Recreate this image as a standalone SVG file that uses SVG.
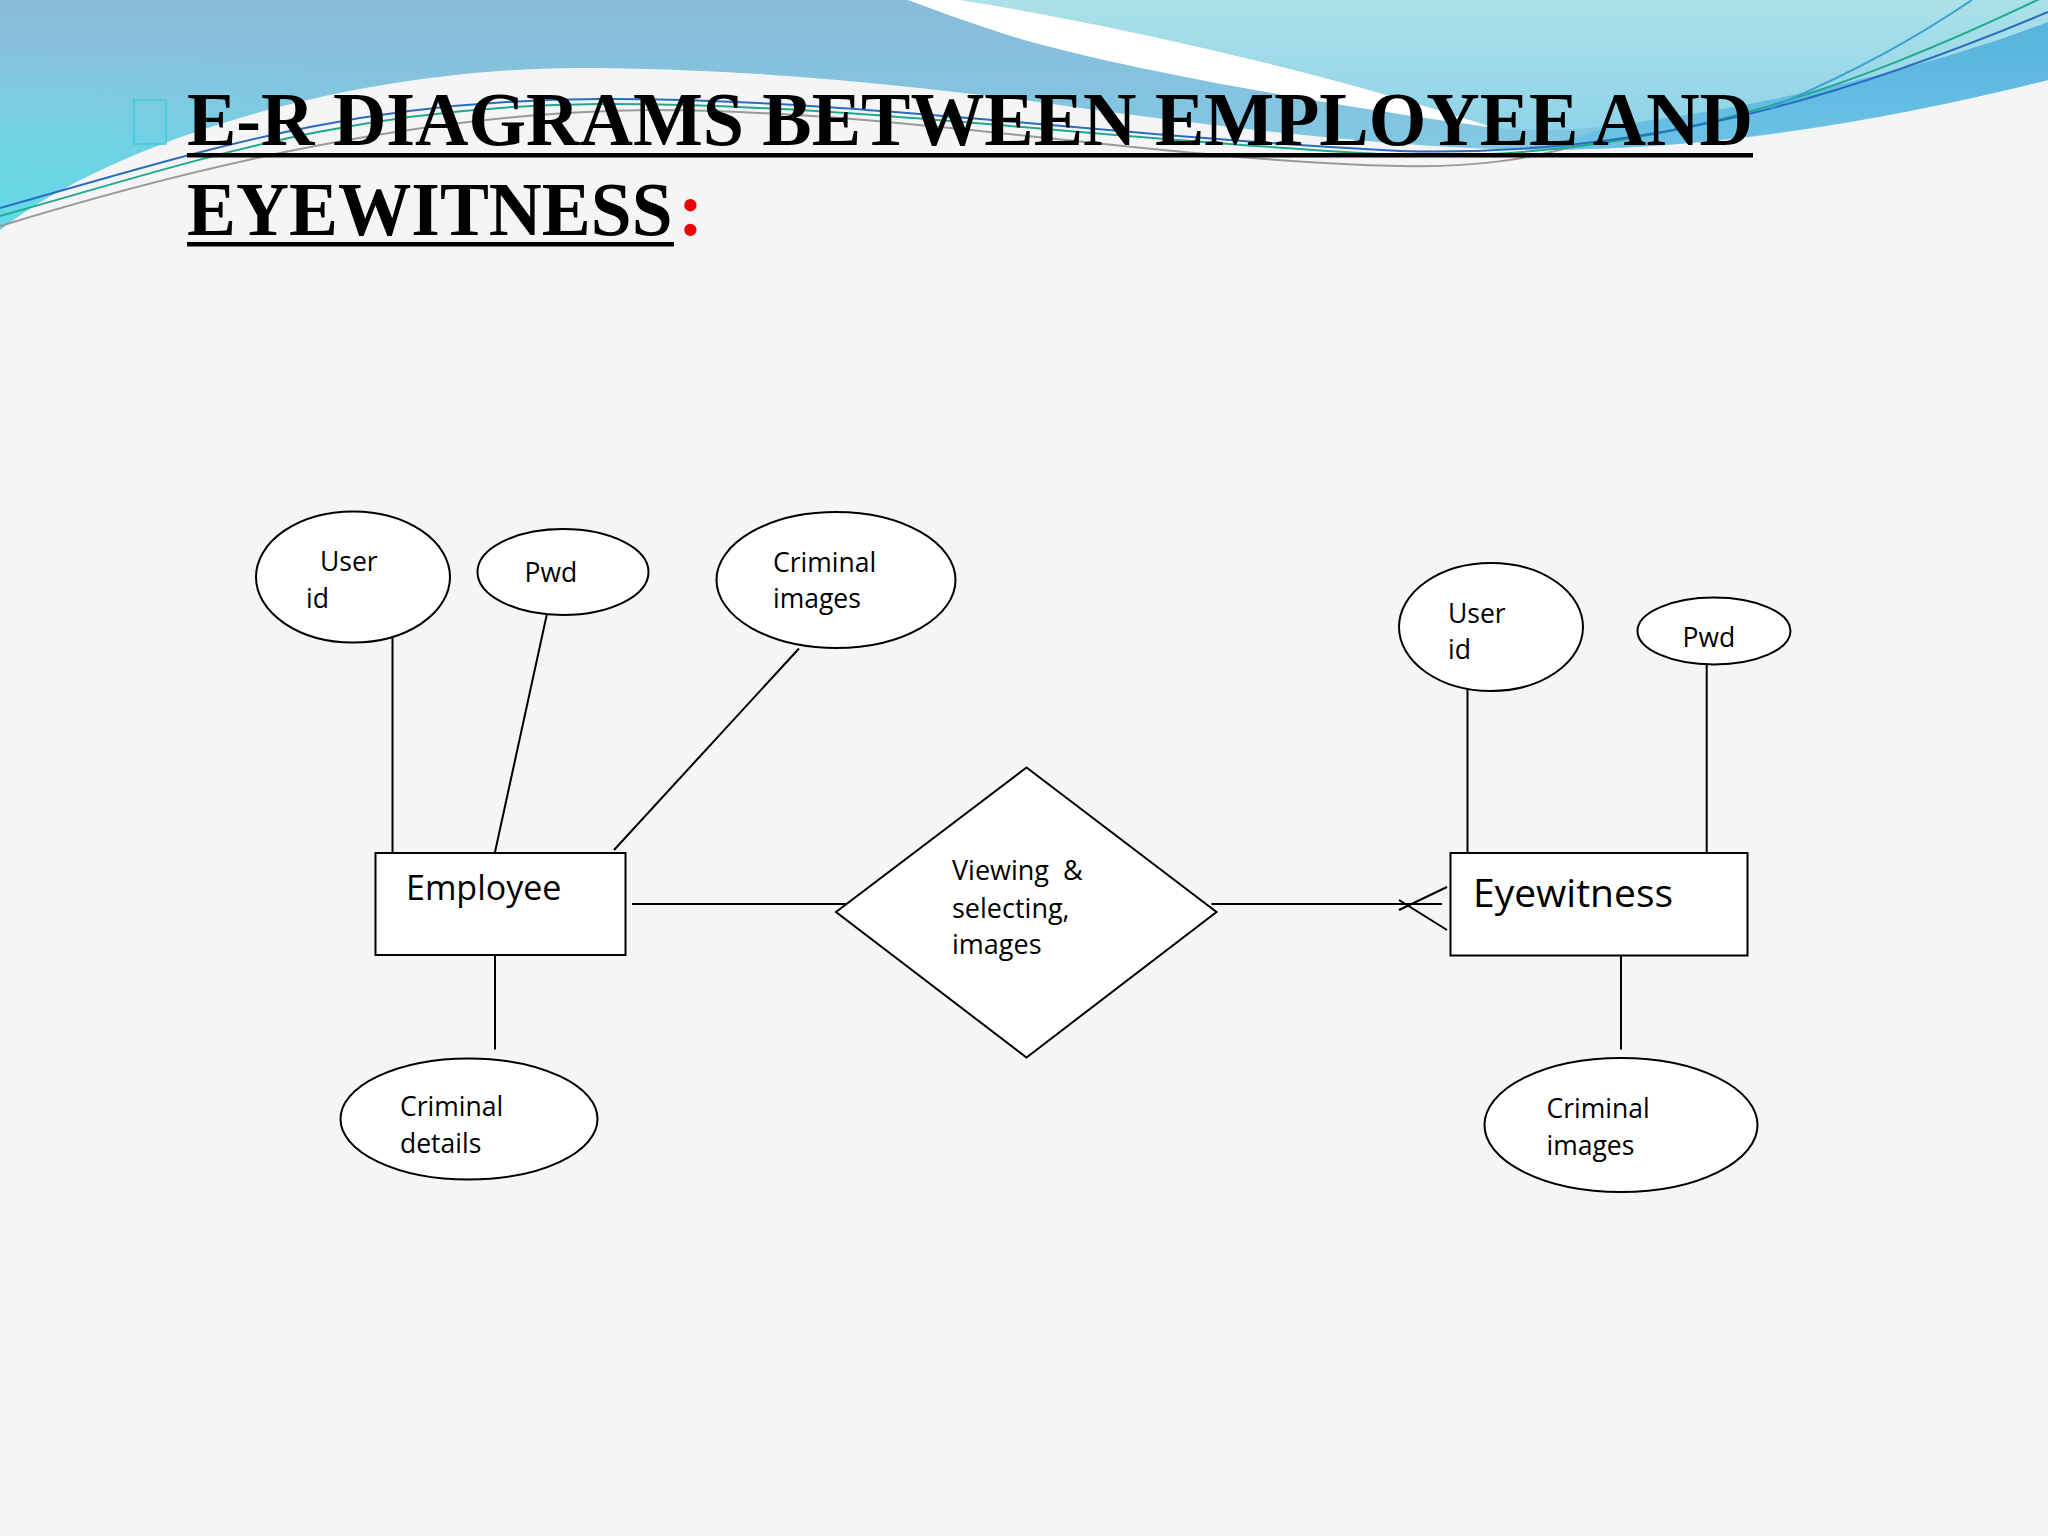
<svg xmlns="http://www.w3.org/2000/svg" width="2048" height="1536" viewBox="0 0 2048 1536">
<defs>
<linearGradient id="gBlue" gradientUnits="userSpaceOnUse" x1="0" y1="0" x2="0" y2="160">
<stop offset="0" stop-color="#89bcd9"/>
<stop offset="1" stop-color="#80c9e4"/>
</linearGradient>
<radialGradient id="gTurq" gradientUnits="userSpaceOnUse" cx="0" cy="250" r="210" gradientTransform="translate(0,250) scale(3.2,1) translate(0,-250)">
<stop offset="0" stop-color="#5fdde7" stop-opacity="1"/>
<stop offset="0.55" stop-color="#68d6e5" stop-opacity="0.7"/>
<stop offset="1" stop-color="#7fcfe3" stop-opacity="0"/>
</radialGradient>
<linearGradient id="gLight" gradientUnits="userSpaceOnUse" x1="0" y1="0" x2="0" y2="130">
<stop offset="0" stop-color="#abe1e8"/>
<stop offset="1" stop-color="#8fd3e8"/>
</linearGradient>
<linearGradient id="gBand" gradientUnits="userSpaceOnUse" x1="0" y1="20" x2="0" y2="150">
<stop offset="0" stop-color="#56b3dc"/>
<stop offset="1" stop-color="#6cc2e6"/>
</linearGradient>
</defs>
<style>
.shape{fill:#ffffff;stroke:#000;stroke-width:2}
.conn line{stroke:#000;stroke-width:2;fill:none}
.lbl{font-family:"Open Sans","Liberation Sans",sans-serif;font-size:26.5px;fill:#000}
.dlbl{font-family:"Open Sans","Liberation Sans",sans-serif;font-size:27px;fill:#000}
.title{font-family:"Liberation Serif","Times New Roman",serif;font-weight:bold;font-size:76px;fill:#000}
.deco{fill:none;stroke-width:2}
</style>
<rect x="0" y="0" width="2048" height="1536" fill="#f5f5f7"/>
<g id="background-waves">
<path d="M0,0 L2048,0 L2048,80 C1900,115 1750,148 1550,150 C1400,150 1200,125 1024,100 C900,85 750,68 575,68 C330,70 100,150 0,230 Z" fill="url(#gBlue)"/>
<path d="M0,0 L2048,0 L2048,80 C1900,115 1750,148 1550,150 C1400,150 1200,125 1024,100 C900,85 750,68 575,68 C330,70 100,150 0,230 Z" fill="url(#gTurq)"/>
<path d="M960,0 L2048,0 L2048,22 C1950,60 1800,100 1640,122 C1590,130 1540,132 1495,128 C1320,70 1100,22 960,0 Z" fill="url(#gLight)"/>
<path d="M2048,22 C1950,60 1800,100 1640,122 C1600,128 1570,138 1548,150 C1720,148 1900,118 2048,80 Z" fill="url(#gBand)"/>
<path d="M908,0 L960,0 C1100,22 1320,70 1495,128 C1350,108 1150,75 1024,40 C975,25 940,12 908,0 Z" fill="#ffffff"/>
<path class="deco" stroke="#9a9a9a" d="M0,226 C150,180 400,112 650,110 C900,110 1150,160 1400,166 C1480,168 1530,158 1580,145"/>
<path class="deco" stroke="#1faa8e" d="M0,216 C200,160 350,106 600,104 C850,103 1100,140 1400,155 C1650,162 1850,90 2048,-5"/>
<path class="deco" stroke="#2a6cc0" d="M0,208 C200,152 350,100 600,99 C850,98 1100,136 1400,151 C1650,158 1850,95 2048,12"/>
<path class="deco" stroke="#3aa0d2" d="M1972,0 C1920,35 1860,70 1770,108"/>
<rect x="134" y="100" width="32" height="44" fill="none" stroke="#3fcad9" stroke-width="1.5"/>
</g>
<g id="title">
<text class="title" x="187" y="145" textLength="1566" lengthAdjust="spacingAndGlyphs">E-R DIAGRAMS BETWEEN EMPLOYEE AND</text>
<rect x="187" y="153" width="1566" height="4.5" fill="#000"/>
<text class="title" transform="translate(187,235) scale(0.966,1)" x="0" y="0">EYEWITNESS</text>
<text class="title" x="678" y="235" style="fill:#ee0000">:</text>
<rect x="187" y="242" width="487" height="4.5" fill="#000"/>
</g>
<g id="connectors" class="conn">
<line x1="392.5" y1="632" x2="392.5" y2="859"/>
<line x1="546.7" y1="615" x2="494.8" y2="853"/>
<line x1="799" y1="648.5" x2="614" y2="850"/>
<line x1="495" y1="955" x2="495" y2="1049.5"/>
<line x1="632" y1="904" x2="849" y2="904"/>
<line x1="1211.5" y1="904" x2="1442" y2="904"/>
<line x1="1447" y1="887" x2="1399" y2="910"/>
<line x1="1399" y1="900" x2="1447" y2="930"/>
<line x1="1467.5" y1="683" x2="1467.5" y2="853"/>
<line x1="1706.7" y1="664.5" x2="1706.7" y2="853"/>
<line x1="1621" y1="955" x2="1621" y2="1049.5"/>
</g>
<g id="employee">
<rect class="shape" x="375.5" y="853" width="250" height="102"/>
<text x="406" y="900" style="font-family:'Open Sans','Liberation Sans',sans-serif;font-size:34px">Employee</text>
</g>
<g id="emp-userid">
<ellipse class="shape" cx="353" cy="577" rx="97" ry="65.5"/>
<text class="lbl" x="320" y="570.5">User</text>
<text class="lbl" x="306" y="608">id</text>
</g>
<g id="emp-pwd">
<ellipse class="shape" cx="563" cy="572" rx="85.5" ry="43"/>
<text class="lbl" x="524.5" y="581.5">Pwd</text>
</g>
<g id="emp-criminal-images">
<ellipse class="shape" cx="836" cy="580" rx="119.5" ry="68"/>
<text class="lbl" x="773" y="571.5">Criminal</text>
<text class="lbl" x="773" y="608">images</text>
</g>
<g id="emp-criminal-details">
<ellipse class="shape" cx="469" cy="1119" rx="128.5" ry="60.5"/>
<text class="lbl" x="400" y="1115.5">Criminal</text>
<text class="lbl" x="400" y="1152.5">details</text>
</g>
<g id="relationship">
<polygon class="shape" points="1026.5,767.5 1216.5,912 1026.5,1057.5 836,912"/>
<text class="dlbl" x="952" y="880" xml:space="preserve">Viewing  &amp;</text>
<text class="dlbl" x="952" y="917.5">selecting,</text>
<text class="dlbl" x="952" y="954">images</text>
</g>
<g id="eyewitness">
<rect class="shape" x="1450.5" y="853" width="297" height="102.5"/>
<text x="1473" y="906.5" style="font-family:'Open Sans','Liberation Sans',sans-serif;font-size:39px">Eyewitness</text>
</g>
<g id="eye-userid">
<ellipse class="shape" cx="1491" cy="627" rx="92" ry="64"/>
<text class="lbl" x="1448" y="622.5">User</text>
<text class="lbl" x="1448" y="659">id</text>
</g>
<g id="eye-pwd">
<ellipse class="shape" cx="1714" cy="631" rx="76.5" ry="33.5"/>
<text class="lbl" x="1682.5" y="647">Pwd</text>
</g>
<g id="eye-criminal-images">
<ellipse class="shape" cx="1621" cy="1125" rx="136.5" ry="67"/>
<text class="lbl" x="1546.5" y="1118">Criminal</text>
<text class="lbl" x="1546.5" y="1155">images</text>
</g>
</svg>
